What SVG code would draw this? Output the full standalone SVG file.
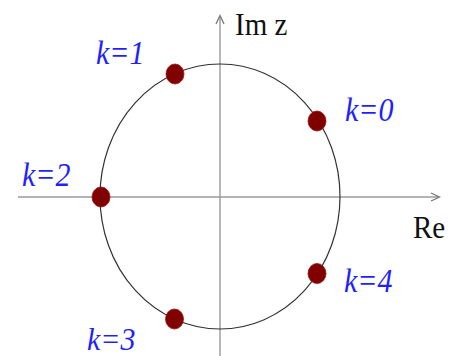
<svg xmlns="http://www.w3.org/2000/svg" width="459" height="356" viewBox="0 0 459 356">
<style>
.axis{stroke:#9a9a9a;stroke-width:1.4;fill:none}
.head{stroke:#777;stroke-width:1.3;fill:none;stroke-linejoin:miter}
.circ{stroke:#333;stroke-width:1.2;fill:none}
.dot{fill:#800000;stroke:#a01010;stroke-width:0.8}
.lab{font-family:"Liberation Serif","Times New Roman",serif;font-size:29px;fill:#111}
.k{font-family:"Liberation Serif","Times New Roman",serif;font-style:italic;font-size:30px;fill:#1f1fff}
</style>
<rect width="459" height="356" fill="#fff"/>
<g id="connectors">
<line class="axis" x1="18" y1="197" x2="439" y2="197"/>
<polyline class="head" points="431,193 439.5,197 431,201"/>
<line class="axis" x1="220" y1="356" x2="220" y2="16"/>
<polyline class="head" points="216,24 220,15.5 224,24"/>
<ellipse id="unit-circle" class="circ" cx="220" cy="196.5" rx="120" ry="132.5"/>
</g>
<g id="axis-labels">
<text class="lab" transform="translate(235,35) scale(1,1.1)">Im z</text>
<text class="lab" transform="translate(413,238) scale(1,1.1)">Re</text>
</g>
<g id="k0"><ellipse class="dot" cx="317" cy="121" rx="9" ry="10"/><text class="k" transform="translate(345,121) scale(1,1.1)">k=0</text></g>
<g id="k1"><ellipse class="dot" cx="175" cy="74" rx="9" ry="10"/><text class="k" transform="translate(96,64) scale(1,1.1)">k=1</text></g>
<g id="k2"><ellipse class="dot" cx="101" cy="197" rx="9" ry="10"/><text class="k" transform="translate(22,186) scale(1,1.1)">k=2</text></g>
<g id="k3"><ellipse class="dot" cx="174.5" cy="319" rx="9" ry="10"/><text class="k" transform="translate(87,350) scale(1,1.05)">k=3</text></g>
<g id="k4"><ellipse class="dot" cx="317" cy="273.5" rx="9" ry="10"/><text class="k" transform="translate(344,292) scale(1,1.1)">k=4</text></g>
</svg>
